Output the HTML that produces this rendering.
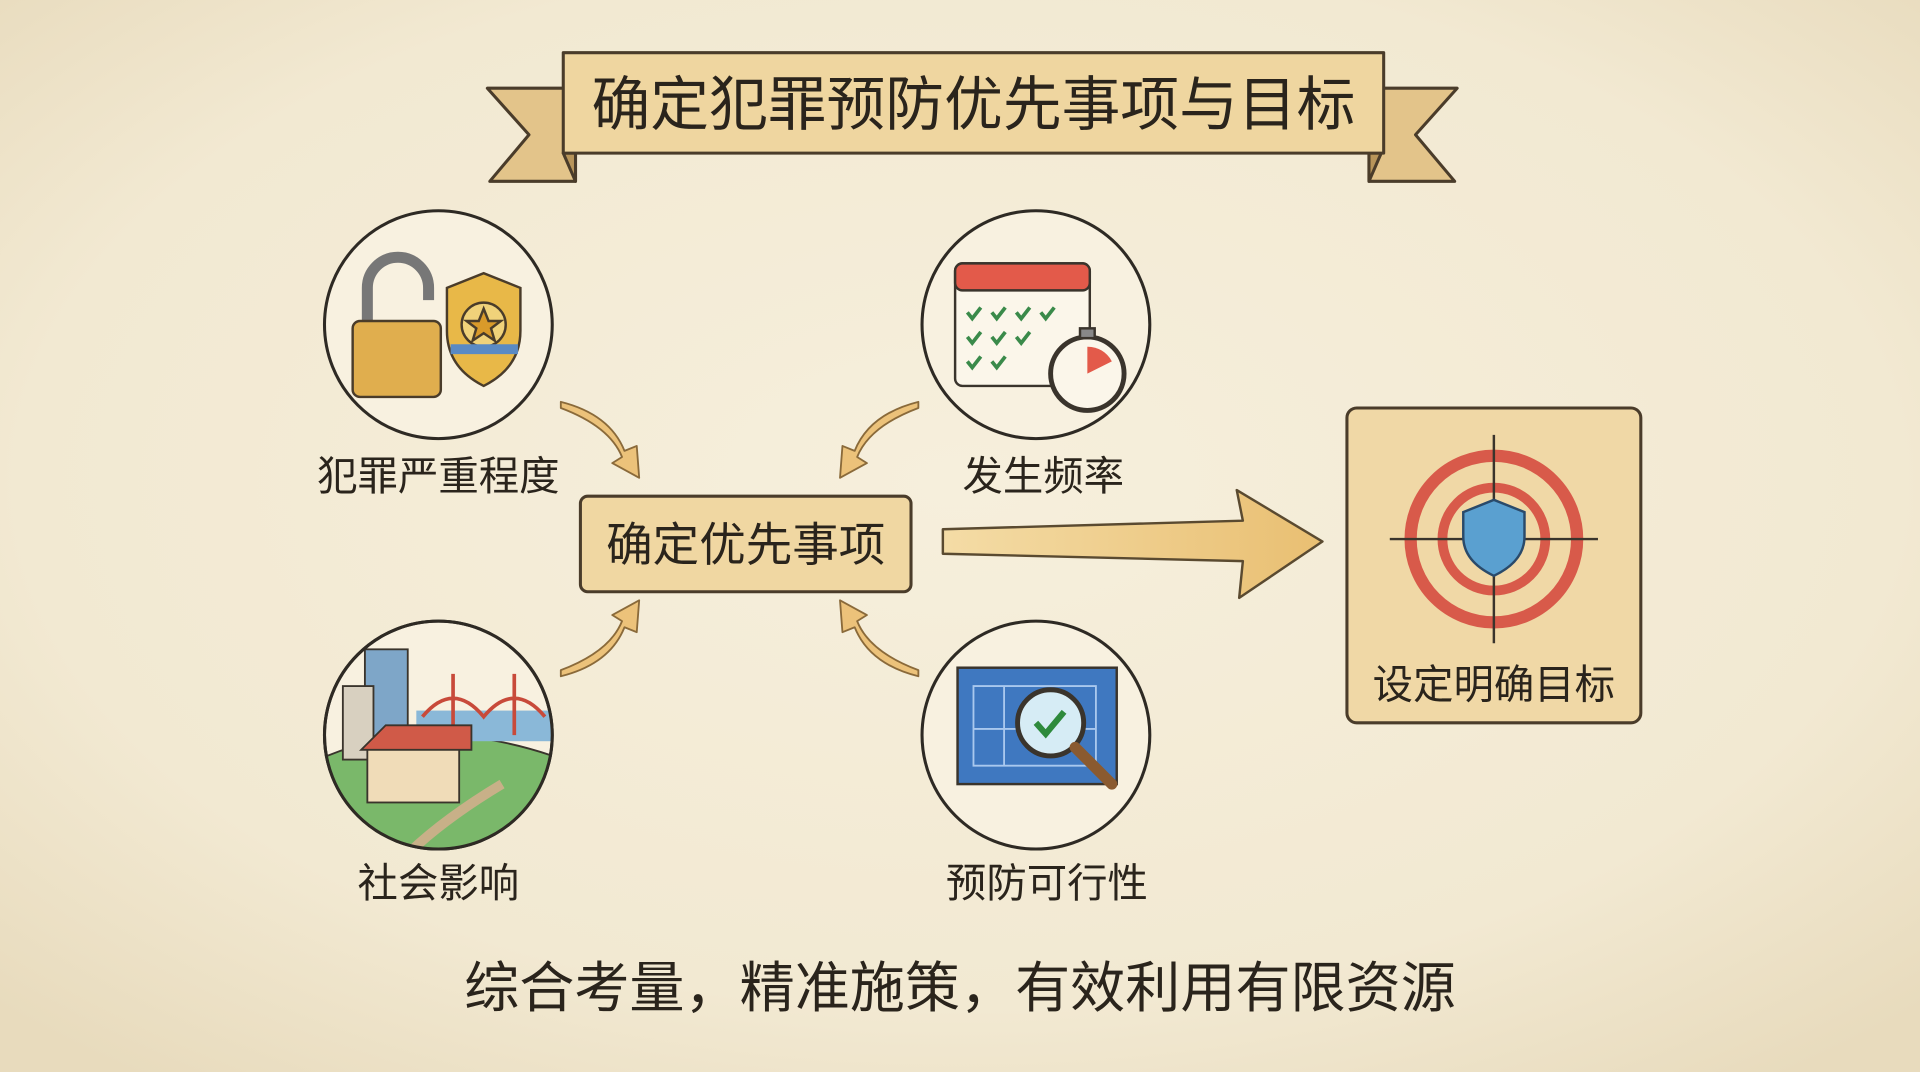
<!DOCTYPE html>
<html><head><meta charset="utf-8"><style>
html,body{margin:0;padding:0;width:1920px;height:1072px;overflow:hidden;background:#f3ebd6}
svg{display:block}
text{font-family:"Liberation Sans","Noto Sans CJK SC",sans-serif;fill:#2a241c;text-anchor:middle}
</style></head><body>
<svg width="1920" height="1072" viewBox="0 0 1568 875" preserveAspectRatio="none">
<defs>
<radialGradient id="bg" cx="50%" cy="45%" r="70%">
<stop offset="0" stop-color="#f6efdc"/><stop offset="0.7" stop-color="#f2e9d2"/><stop offset="1" stop-color="#e8dbbd"/></radialGradient>
<linearGradient id="ar" x1="0" x2="1"><stop offset="0" stop-color="#f4dca6"/><stop offset="1" stop-color="#e9bf72"/></linearGradient>
<clipPath id="c3"><circle cx="358" cy="600" r="92"/></clipPath>
</defs>
<rect width="1568" height="875" fill="url(#bg)"/>
<!-- banner -->
<g stroke="#4a3c2a" stroke-width="2.5" stroke-linejoin="round">
<polygon points="398,72 470,72 470,148 400,148 432,110" fill="#e3c48a"/>
<polygon points="1190,72 1118,72 1118,148 1188,148 1156,110" fill="#e3c48a"/>
<polygon points="460,125 470,148 470,125" fill="#b8955a"/>
<polygon points="1128,125 1118,148 1118,125" fill="#b8955a"/>
<rect x="460" y="43" width="670" height="82" fill="#efd6a0"/>
</g>
<text x="795" y="102" font-size="48">确定犯罪预防优先事项与目标</text>
<!-- circles -->
<g fill="#f8f1e0" stroke="#2e2a24" stroke-width="2.5">
<circle cx="358" cy="265" r="93"/><circle cx="846" cy="265" r="93"/>
<circle cx="358" cy="600" r="93"/><circle cx="846" cy="600" r="93"/>
</g>
<!-- lock & badge -->
<g stroke="#4a3c2a" stroke-width="2">
<path d="M300,265 v-30 a25,25 0 0 1 50,0 v10" fill="none" stroke="#777" stroke-width="9"/>
<rect x="288" y="262" width="72" height="62" rx="6" fill="#e0ae4e"/>
<path d="M365,235 l30,-12 l30,12 v35 q0,30 -30,45 q-30,-15 -30,-45z" fill="#e8b848"/>
<circle cx="395" cy="265" r="18" fill="#f0d27a"/>
<polygon points="395,252 399,262 409,262 401,268 404,278 395,272 386,278 389,268 381,262 391,262" fill="#d99a2a"/>
<path d="M368,285 h55" stroke="#5a8ac4" stroke-width="8"/>
</g>
<!-- calendar -->
<g stroke="#3a342c" stroke-width="2">
<rect x="780" y="215" width="110" height="100" rx="6" fill="#fbf6ea"/>
<rect x="780" y="215" width="110" height="22" rx="6" fill="#e35a4a"/>
<g fill="none" stroke="#3a8a4a" stroke-width="3">
<path d="M790,255 l4,5 l7,-9M810,255 l4,5 l7,-9M830,255 l4,5 l7,-9M850,255 l4,5 l7,-9M790,275 l4,5 l7,-9M810,275 l4,5 l7,-9M830,275 l4,5 l7,-9M790,295 l4,5 l7,-9M810,295 l4,5 l7,-9"/></g>
<circle cx="888" cy="305" r="30" fill="#fbf6ea" stroke-width="4"/>
<path d="M888,305 v-22 a22,22 0 0 1 20,12z" fill="#e35a4a" stroke="none"/>
<rect x="882" y="268" width="12" height="8" fill="#888"/>
</g>
<!-- city -->
<g stroke="#3a342c" stroke-width="1.5" clip-path="url(#c3)">
<path d="M260,620 q90,-40 200,0 v80 h-200z" fill="#7ab86a"/>
<rect x="298" y="530" width="35" height="80" fill="#7ea6c8"/>
<rect x="280" y="560" width="25" height="60" fill="#d8d0c0"/>
<rect x="340" y="580" width="120" height="25" fill="#8ab8d8" stroke="none"/>
<path d="M370,550 v50 M420,550 v50 M345,585 q25,-30 50,0 q25,-30 50,0" fill="none" stroke="#c84a3a" stroke-width="3"/>
<rect x="300" y="610" width="75" height="45" fill="#f0dcb8"/>
<polygon points="295,612 315,592 385,592 385,612" fill="#d05a48"/>
<path d="M330,700 q30,-30 80,-60" fill="none" stroke="#c8b088" stroke-width="8"/>
</g>
<circle cx="358" cy="600" r="93" fill="none" stroke="#2e2a24" stroke-width="2.5"/>
<!-- blueprint -->
<g stroke="#3a342c" stroke-width="2">
<rect x="782" y="545" width="130" height="95" fill="#3f78c0"/>
<path d="M795,560 h100 v65 h-100z M820,560 v65 M795,595 h100" fill="none" stroke="#a9c8ee" stroke-width="1.5"/>
<circle cx="858" cy="590" r="27" fill="#d6ecf5" stroke-width="4"/>
<path d="M846,590 l8,9 l15,-18" fill="none" stroke="#2e8a3c" stroke-width="5"/>
<path d="M878,610 l30,30" stroke="#8a5a30" stroke-width="9" stroke-linecap="round"/>
</g>
<!-- labels -->
<g font-size="33">
<text x="358" y="400">犯罪严重程度</text><text x="852" y="400">发生频率</text>
<text x="358" y="732">社会影响</text><text x="855" y="732">预防可行性</text>
</g>
<!-- center box -->
<rect x="474" y="405" width="270" height="78" rx="6" fill="#f0d7a2" stroke="#4a3c2a" stroke-width="2.5"/>
<text x="609" y="458" font-size="38">确定优先事项</text>
<!-- small arrows -->
<g fill="#ecc27a" stroke="#8a6a3a" stroke-width="1.5" stroke-linejoin="round">
<path d="M458,328 q40,10 52,40 l10,-4 l2,26 l-22,-12 l8,-5 q-10,-25 -50,-40z"/>
<path d="M750,328 q-40,10 -52,40 l-10,-4 l-2,26 l22,-12 l-8,-5 q10,-25 50,-40z"/>
<path d="M458,552 q40,-10 52,-40 l10,4 l2,-26 l-22,12 l8,5 q-10,25 -50,40z"/>
<path d="M750,552 q-40,-10 -52,-40 l-10,4 l-2,-26 l22,12 l-8,5 q10,25 50,40z"/>
</g>
<!-- big arrow -->
<path d="M770,432 L1015,425 L1010,400 L1080,442 L1012,488 L1015,458 L770,452z" fill="url(#ar)" stroke="#5a4a30" stroke-width="2" stroke-linejoin="round"/>
<!-- target box -->
<rect x="1100" y="333" width="240" height="257" rx="8" fill="#f0d8a6" stroke="#4a3c2a" stroke-width="2.5"/>
<g fill="none">
<circle cx="1220" cy="440" r="68" stroke="#d85a4a" stroke-width="10"/>
<circle cx="1220" cy="440" r="42" stroke="#d85a4a" stroke-width="8"/>
<path d="M1135,440 h170 M1220,355 v170" stroke="#3a342c" stroke-width="2"/>
</g>
<path d="M1195,418 l25,-10 l25,10 v20 q0,20 -25,32 q-25,-12 -25,-32z" fill="#5aa0d0" stroke="#2a4a6a" stroke-width="2"/>
<text x="1220" y="570" font-size="33">设定明确目标</text>
<text x="784" y="822" font-size="45">综合考量，精准施策，有效利用有限资源</text>
</svg>
</body></html>
